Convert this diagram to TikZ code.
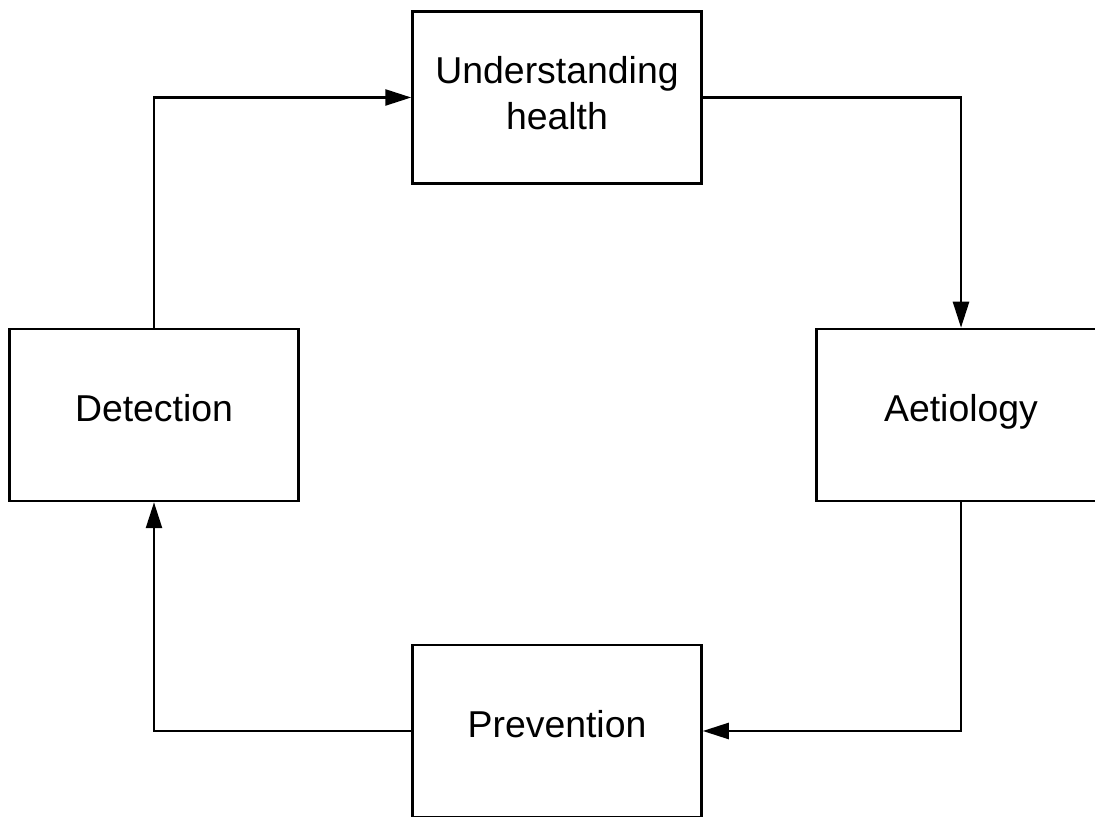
\documentclass[tikz,border=0pt]{standalone}
\usepackage{fontspec}
\setmainfont{Liberation Sans}
\usetikzlibrary{arrows.meta}
\tikzset{
	%Define standard arrow tip
	>={Triangle[length=13pt,width=8pt]},
	%Define style for boxes
	boks/.style={
		rectangle,
		draw=black, line width=1.25pt,
		minimum width=144.5pt,
		minimum height=86pt,
		align=center,
		font=\fontsize{18.7}{23}\selectfont},
	% one line of text, lifted a little
	enlinje/.style={text height=13.5pt, text depth=6.5pt},
	% Define arrow style
	pil/.style={
		->,
		line width=1.25pt}
}
\begin{document}
\begin{tikzpicture}[x=0.5pt, y=0.5pt]
	\useasboundingbox (0,0) rectangle (1095,817);
	
	\node[boks, text depth=5pt] (health) at (557,719.5) {Understanding\\health};
	\node[boks, enlinje] (aetiology) at (961,402) {Aetiology};
	\node[boks, enlinje] (prevention) at (557,86) {Prevention};
	\node[boks, enlinje] (detection) at (154,402) {Detection};
	
	\draw[pil] (health.east) -| (aetiology.north);
	\draw[pil] (aetiology.south) |- (prevention.east);
	\draw[pil] (prevention.west) -| (detection.south);
	\draw[pil] (detection.north) |- (health.west);
	
\end{tikzpicture}
\end{document}
